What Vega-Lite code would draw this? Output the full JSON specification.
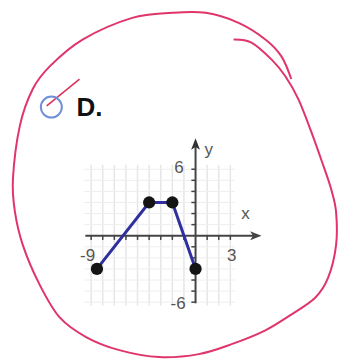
{
  "$schema": "https://vega.github.io/schema/vega-lite/v6.json",
  "width": 341,
  "height": 362,
  "padding": 0,
  "autosize": {"type": "fit", "contains": "padding"},
  "background": "white",
  "config": {"view": {"stroke": null}},
  "encoding": {
    "x": {"field": "x", "type": "quantitative", "scale": {"domain": [-16.855, 12.365], "nice": false, "zero": false}, "axis": null},
    "y": {"field": "y", "type": "quantitative", "scale": {"domain": [-11.04, 21.28], "nice": false, "zero": false}, "axis": null}
  },
  "layer": [
    {
      "data": {"values": [
        {"x": -9, "y": -6.3, "y2": 6.4}, {"x": -8, "y": -6.3, "y2": 6.4}, {"x": -7, "y": -6.3, "y2": 6.4},
        {"x": -6, "y": -6.3, "y2": 6.4}, {"x": -5, "y": -6.3, "y2": 6.4}, {"x": -4, "y": -6.3, "y2": 6.4},
        {"x": -3, "y": -6.3, "y2": 6.4}, {"x": -2, "y": -6.3, "y2": 6.4}, {"x": -1, "y": -6.3, "y2": 6.4},
        {"x": 1, "y": -6.3, "y2": 6.4}, {"x": 2, "y": -6.3, "y2": 6.4}, {"x": 3, "y": -6.3, "y2": 6.4}
      ]},
      "mark": {"type": "rule", "color": "#e6e6e6", "strokeWidth": 1.5},
      "encoding": {"y2": {"field": "y2"}}
    },
    {
      "data": {"values": [
        {"y": -6, "x": -9.6, "x2": 3.4}, {"y": -5, "x": -9.6, "x2": 3.4}, {"y": -4, "x": -9.6, "x2": 3.4},
        {"y": -3, "x": -9.6, "x2": 3.4}, {"y": -2, "x": -9.6, "x2": 3.4}, {"y": -1, "x": -9.6, "x2": 3.4},
        {"y": 1, "x": -9.6, "x2": 3.4}, {"y": 2, "x": -9.6, "x2": 3.4}, {"y": 3, "x": -9.6, "x2": 3.4},
        {"y": 4, "x": -9.6, "x2": 3.4}, {"y": 5, "x": -9.6, "x2": 3.4}, {"y": 6, "x": -9.6, "x2": 3.4}
      ]},
      "mark": {"type": "rule", "color": "#eeeeee", "strokeWidth": 1},
      "encoding": {"x2": {"field": "x2"}}
    },
    {
      "data": {"values": [
        {"x": -9.5, "y": 0, "x2": 5.3, "y2": 0},
        {"x": 0, "y": -6.1, "x2": 0, "y2": 8.4}
      ]},
      "mark": {"type": "rule", "color": "#444444", "strokeWidth": 2},
      "encoding": {"x2": {"field": "x2"}, "y2": {"field": "y2"}}
    },
    {
      "data": {"values": [
        {"x": -9, "y": 0, "y2": -0.38}, {"x": -8, "y": 0, "y2": -0.38}, {"x": -7, "y": 0, "y2": -0.38},
        {"x": -6, "y": 0, "y2": -0.38}, {"x": -5, "y": 0, "y2": -0.38}, {"x": -4, "y": 0, "y2": -0.38},
        {"x": -3, "y": 0, "y2": -0.38}, {"x": -2, "y": 0, "y2": -0.38}, {"x": -1, "y": 0, "y2": -0.38},
        {"x": 1, "y": 0, "y2": -0.38}, {"x": 2, "y": 0, "y2": -0.38}, {"x": 3, "y": 0, "y2": -0.38}
      ]},
      "mark": {"type": "rule", "color": "#444444", "strokeWidth": 1.5},
      "encoding": {"y2": {"field": "y2"}}
    },
    {
      "data": {"values": [
        {"y": -6, "x": -0.36, "x2": 0}, {"y": -5, "x": -0.36, "x2": 0}, {"y": -4, "x": -0.36, "x2": 0},
        {"y": -3, "x": -0.36, "x2": 0}, {"y": -2, "x": -0.36, "x2": 0}, {"y": -1, "x": -0.36, "x2": 0},
        {"y": 1, "x": -0.36, "x2": 0}, {"y": 2, "x": -0.36, "x2": 0}, {"y": 3, "x": -0.36, "x2": 0},
        {"y": 4, "x": -0.36, "x2": 0}, {"y": 5, "x": -0.36, "x2": 0}, {"y": 6, "x": -0.36, "x2": 0}
      ]},
      "mark": {"type": "rule", "color": "#444444", "strokeWidth": 1.5},
      "encoding": {"x2": {"field": "x2"}}
    },
    {
      "data": {"values": [{"x": 0, "y": 8.22}]},
      "mark": {"type": "point", "shape": "M0,-1L0.7,0.8L0,0.35L-0.7,0.8Z", "size": 160, "filled": true, "color": "#333333", "opacity": 1}
    },
    {
      "data": {"values": [{"x": 5.14, "y": 0}]},
      "mark": {"type": "point", "shape": "M1,0L-0.8,-0.7L-0.35,0L-0.8,0.7Z", "size": 160, "filled": true, "color": "#444444", "opacity": 1}
    },
    {
      "data": {"values": [
        {"x": -9.31, "y": -1.85, "label": "-9"},
        {"x": 3.12, "y": -1.85, "label": "3"},
        {"x": -1.43, "y": 6.1, "label": "6"},
        {"x": -1.5, "y": -6.2, "label": "-6"},
        {"x": 4.31, "y": 2.0, "label": "x"},
        {"x": 1.14, "y": 7.7, "label": "y"}
      ]},
      "mark": {"type": "text", "font": "Liberation Sans", "fontSize": 17, "color": "#555555", "align": "center", "baseline": "middle"},
      "encoding": {"text": {"field": "label"}}
    },
    {
      "data": {"values": [
        {"x": -8.5, "y": -3}, {"x": -4, "y": 3}, {"x": -2, "y": 3}, {"x": 0, "y": -3}
      ]},
      "mark": {"type": "line", "color": "#2f2f9f", "strokeWidth": 3}
    },
    {
      "data": {"values": [
        {"x": -8.5, "y": -3}, {"x": -4, "y": 3}, {"x": -2, "y": 3}, {"x": 0, "y": -3}
      ]},
      "mark": {"type": "point", "filled": true, "color": "#141414", "size": 150, "opacity": 1}
    },
    {
      "data": {"values": [
        {"o": 1, "x": 3.28, "y": 17.72}, {"o": 2, "x": 4.82, "y": 17.44}, {"o": 3, "x": 6.54, "y": 15.92},
        {"o": 4, "x": 7.74, "y": 14.40}, {"o": 5, "x": 8.85, "y": 12.35}, {"o": 6, "x": 9.97, "y": 9.40},
        {"o": 7, "x": 11.00, "y": 6.37}, {"o": 8, "x": 11.68, "y": 4.23}, {"o": 9, "x": 12.11, "y": 2.17},
        {"o": 10, "x": 12.11, "y": -0.87}, {"o": 11, "x": 11.42, "y": -3.81}, {"o": 12, "x": 10.31, "y": -5.60},
        {"o": 13, "x": 8.25, "y": -7.12}, {"o": 14, "x": 6.02, "y": -8.54}, {"o": 15, "x": 3.11, "y": -9.79},
        {"o": 16, "x": 0.28, "y": -10.69}, {"o": 17, "x": -3.14, "y": -10.96}, {"o": 18, "x": -6.57, "y": -10.33},
        {"o": 19, "x": -9.40, "y": -9.17}, {"o": 20, "x": -11.71, "y": -7.38}, {"o": 21, "x": -13.43, "y": -4.44},
        {"o": 22, "x": -14.88, "y": -0.87}, {"o": 23, "x": -15.57, "y": 2.17}, {"o": 24, "x": -15.74, "y": 5.12},
        {"o": 25, "x": -15.14, "y": 9.94}, {"o": 26, "x": -14.03, "y": 13.24}, {"o": 27, "x": -12.57, "y": 15.29},
        {"o": 28, "x": -9.74, "y": 17.71}, {"o": 29, "x": -5.46, "y": 19.67}, {"o": 30, "x": -2.03, "y": 20.12},
        {"o": 31, "x": 0.88, "y": 20.12}, {"o": 32, "x": 3.71, "y": 19.22}, {"o": 33, "x": 6.02, "y": 17.72},
        {"o": 34, "x": 7.39, "y": 16.21}, {"o": 35, "x": 8.25, "y": 14.15}
      ]},
      "mark": {"type": "line", "color": "#e0356a", "strokeWidth": 2, "interpolate": "cardinal"},
      "encoding": {"order": {"field": "o", "type": "quantitative"}}
    },
    {
      "data": {"values": [{"x": -12.83, "y": 11.72, "x2": -10.0, "y2": 14.13}]},
      "mark": {"type": "rule", "color": "#d9305a", "strokeWidth": 1.5},
      "encoding": {"x2": {"field": "x2"}, "y2": {"field": "y2"}}
    },
    {
      "data": {"values": [{"x": -12.43, "y": 11.61}]},
      "mark": {"type": "point", "shape": "circle", "filled": false, "color": "#6f8fd9", "strokeWidth": 2, "size": 441, "opacity": 1}
    },
    {
      "data": {"values": [{"x": -10.26, "y": 10.83, "label": "D."}]},
      "mark": {"type": "text", "font": "Liberation Sans", "fontSize": 26, "fontWeight": "bold", "color": "#111111", "align": "left", "baseline": "alphabetic"},
      "encoding": {"text": {"field": "label"}}
    }
  ]
}
